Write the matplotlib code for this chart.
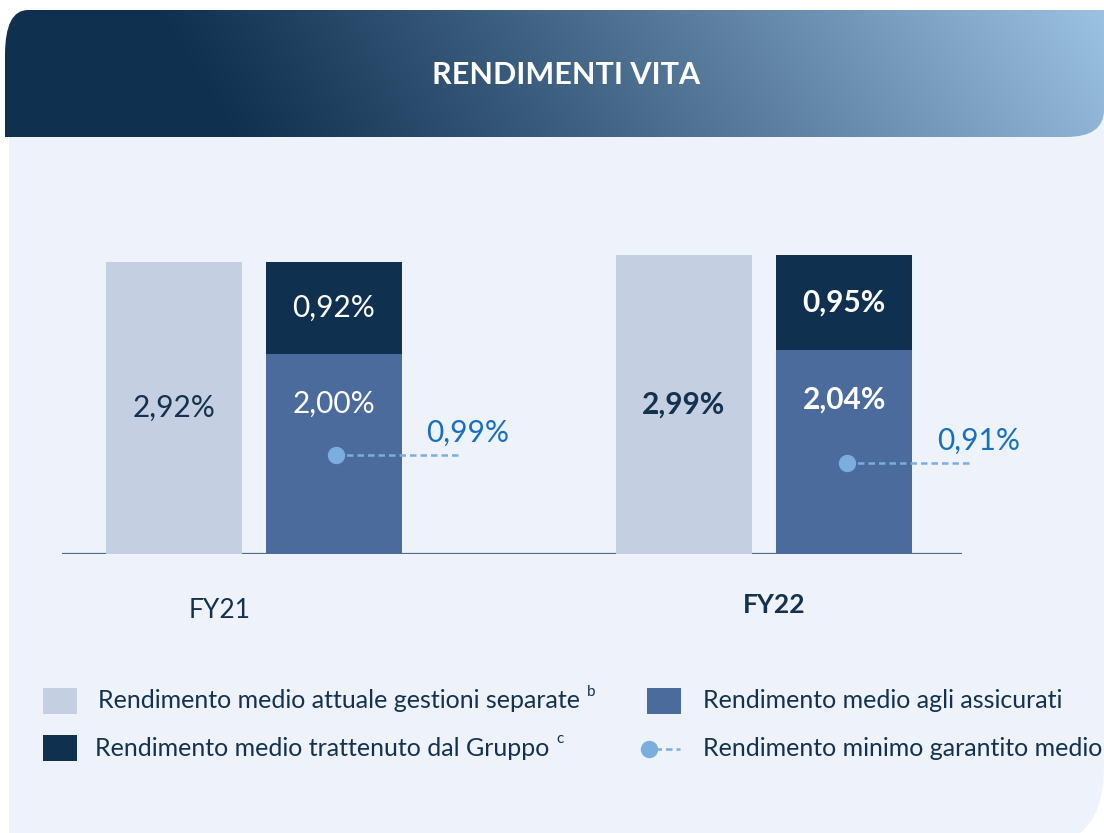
import numpy as np
import matplotlib
matplotlib.use('Agg')
import matplotlib.pyplot as plt
from matplotlib.path import Path
from matplotlib.patches import PathPatch, Rectangle

plt.rcParams['font.family'] = ['Lato', 'DejaVu Sans']

# data
years = ['FY21', 'FY22']
gestioni = [2.92, 2.99]          # rendimento medio attuale gestioni separate
assicurati = [2.00, 2.04]        # rendimento medio agli assicurati
trattenuto = [0.92, 0.95]        # rendimento medio trattenuto dal gruppo
minimo = [0.99, 0.91]            # rendimento minimo garantito medio
bold_year = [False, True]

legend_labels = ['Rendimento medio attuale gestioni separate',
                 'Rendimento medio trattenuto dal Gruppo',
                 'Rendimento medio agli assicurati',
                 'Rendimento minimo garantito medio']
legend_sup = ['b', 'c', '', '']

c_light = '#c4d0e2'
c_mid = '#4a6b9b'
c_dark = '#10304f'
c_dot = '#7aaede'
c_blue_txt = '#1670bf'
c_txt = '#14324f'
c_panel = '#eef2fa'

W, H = 1104, 833
fig = plt.figure(figsize=(W / 100, H / 100), dpi=100)
fig.patch.set_facecolor('white')

# background / decoration axes in pixel coordinates
bg = fig.add_axes([0, 0, 1, 1])
bg.set_xlim(0, W)
bg.set_ylim(H, 0)
bg.axis('off')

# panel with rounded bottom-right corner
verts = [(9, 100), (W, 100), (W, 765), (W, 815), (1080, H), (9, H), (9, 100)]
codes = [Path.MOVETO, Path.LINETO, Path.LINETO, Path.CURVE3, Path.CURVE3,
         Path.LINETO, Path.CLOSEPOLY]
bg.add_patch(PathPatch(Path(verts, codes), facecolor=c_panel, edgecolor='none', zorder=0))

# banner with gradient
bverts = [(5, 137), (5, 55), (5, 10), (28, 10), (W, 10), (W, 110),
          (W, 137), (1066, 137), (5, 137)]
bcodes = [Path.MOVETO, Path.LINETO, Path.CURVE3, Path.CURVE3, Path.LINETO,
          Path.LINETO, Path.CURVE3, Path.CURVE3, Path.CLOSEPOLY]
banner = PathPatch(Path(bverts, bcodes), facecolor='none', edgecolor='none')
bg.add_patch(banner)
gx, gy = np.meshgrid(np.arange(0, W, 2), np.arange(8, 140, 2))
t = ((gx - 150) * 127 - (gy - 10) * 80) / 150.0 / 820.0
t = np.clip(t, 0, 1) ** 1.1
c0 = np.array([16, 48, 79]) / 255
c1 = np.array([158, 196, 230]) / 255
img = c0[None, None, :] * (1 - t[..., None]) + c1[None, None, :] * t[..., None]
im = bg.imshow(img, extent=[0, W, 140, 8], aspect='auto', interpolation='bilinear', zorder=2)
im.set_clip_path(banner)
bg.set_xlim(0, W)
bg.set_ylim(H, 0)
bg.text(566, 75, 'RENDIMENTI VITA', color='white', fontsize=22, fontweight='bold',
        ha='center', va='center', zorder=3)

# chart axes
ax = fig.add_axes([62 / W, (H - 554) / H, 900 / W, 374 / H])
ax.set_xlim(-0.376, 1.388)
ax.set_ylim(0, 3.74)
ax.axis('off')
ax.axhline(0, color='#4d6a8a', lw=1.6, zorder=1)

x = np.arange(len(years))
w = 0.267
off = 0.157
ax.bar(x - off, gestioni, w, color=c_light, zorder=2)
ax.bar(x + off, assicurati, w, color=c_mid, zorder=2)
ax.bar(x + off, trattenuto, w, bottom=assicurati, color=c_dark, zorder=2)

vs = 21.5
for i in range(len(years)):
    fw = 'bold' if bold_year[i] else 'normal'
    fmt = lambda v: f'{v:.2f}%'.replace('.', ',')
    ax.text(x[i] - off, gestioni[i] / 2, fmt(gestioni[i]), ha='center', va='center',
            fontsize=vs, color=c_txt, fontweight=fw, zorder=3)
    ax.text(x[i] + off, assicurati[i] - 0.5, fmt(assicurati[i]), ha='center', va='center',
            fontsize=vs, color='white', fontweight=fw, zorder=3)
    ax.text(x[i] + off, assicurati[i] + trattenuto[i] / 2, fmt(trattenuto[i]),
            ha='center', va='center', fontsize=vs, color='white', fontweight=fw, zorder=3)
    # minimo garantito
    ax.plot([x[i] + 0.162, x[i] + 0.407], [minimo[i], minimo[i]], color=c_dot, lw=1.8,
            ls=(0, (2.6, 1.6)), zorder=4, clip_on=False)
    ax.plot(x[i] + 0.162, minimo[i], 'o', color=c_dot, ms=11.5, zorder=5, clip_on=False)
    ax.text(x[i] + 0.42, minimo[i] + 0.22, fmt(minimo[i]), ha='center', va='center',
            fontsize=vs, color=c_blue_txt, zorder=5, clip_on=False)

# category labels
bg.text(220, 611, years[0], ha='center', va='center', fontsize=19, color=c_txt,
        fontweight='bold' if bold_year[0] else 'normal')
bg.text(774, 605, years[1], ha='center', va='center', fontsize=19, color=c_txt,
        fontweight='bold' if bold_year[1] else 'normal')

# legend
bg.add_patch(Rectangle((43, 688), 34, 26, color=c_light, lw=0))
bg.add_patch(Rectangle((43, 735), 34, 26, color=c_dark, lw=0))
bg.add_patch(Rectangle((647, 688), 34, 26, color=c_mid, lw=0))
bg.plot([655, 680], [749, 749], color=c_dot, lw=1.8, ls=(0, (2.6, 1.6)))
bg.plot(649, 749, 'o', color=c_dot, ms=11.5)

leg_pos = [(98, 701), (95, 748), (703, 701), (703, 748)]
fig.canvas.draw()
r = fig.canvas.get_renderer()
for (lx, ly), lab, sup in zip(leg_pos, legend_labels, legend_sup):
    tt = bg.text(lx, ly, lab, ha='left', va='center', fontsize=18, color=c_txt)
    if sup:
        bb = tt.get_window_extent(renderer=r)
        xr = bg.transData.inverted().transform((bb.x1, 0))[0]
        bg.text(xr + 7, ly - 9, sup, ha='left', va='center', fontsize=11, color=c_txt)

fig.savefig('out.png', dpi=100, facecolor=fig.get_facecolor())
